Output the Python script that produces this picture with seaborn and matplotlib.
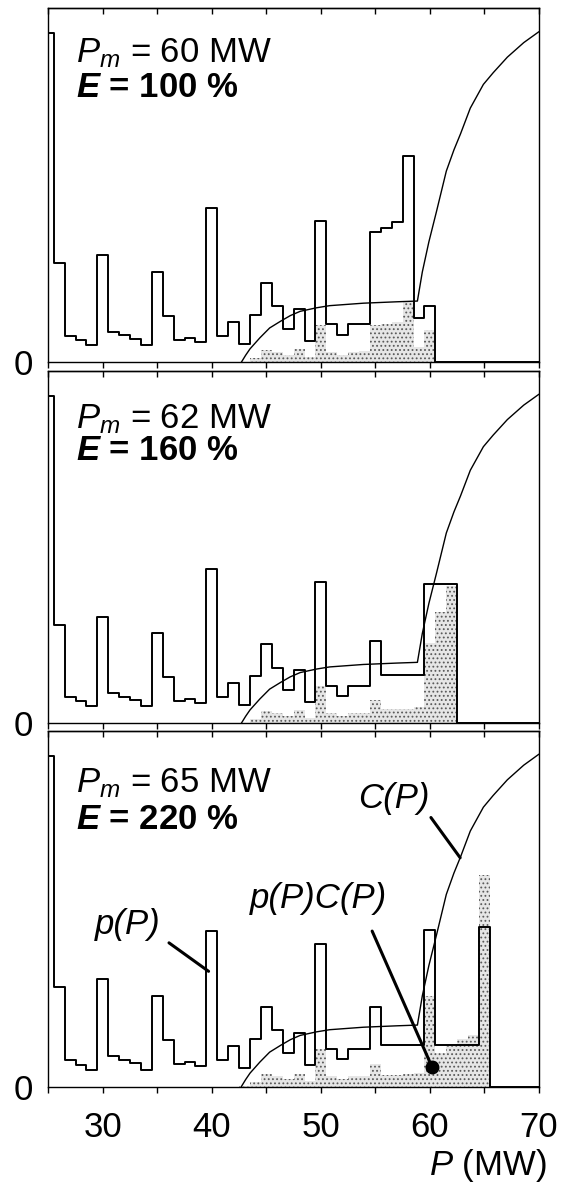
import numpy as np
import pandas as pd
import matplotlib
matplotlib.use("Agg")
import matplotlib.pyplot as plt
import seaborn as sns

# ---- data -------------------------------------------------------------
# probability histogram p(P), one bin per MW (bin centres 25 .. Pm)
BIN_COMMON = list(range(25, 55))
P_COMMON = [0.93, 0.28, 0.075, 0.062, 0.048, 0.303, 0.085, 0.076, 0.066, 0.048,
            0.256, 0.13, 0.063, 0.07, 0.057, 0.437, 0.075, 0.115, 0.052, 0.135,
            0.224, 0.158, 0.095, 0.15, 0.06, 0.40, 0.107, 0.078, 0.107, 0.107]
# upper part of the histogram for each maximum power
P_TAIL_60 = [0.369, 0.379, 0.396, 0.582, 0.124, 0.160]
P_TAIL_62 = [0.233, 0.137, 0.137, 0.137, 0.137, 0.394, 0.394, 0.394]
P_TAIL_65 = [0.225, 0.117, 0.117, 0.117, 0.117, 0.441, 0.117, 0.117, 0.117, 0.117, 0.448]
PM_VALUES = [60, 62, 65]
E_VALUES = [100, 160, 220]

# cost curve C(P)
C_CURVE_P = [42.7, 43.1, 43.5, 44.4, 45.3, 46.3, 47.2, 48.1, 49.6, 50.8, 53.9, 57.0,
             58.85, 59.3, 59.9, 60.6, 61.5, 62.2, 62.8, 63.7, 64.9, 65.8, 67.1,
             68.6, 70.0]
C_CURVE_V = [0.0, 0.02, 0.038, 0.069, 0.097, 0.116, 0.132, 0.144, 0.154, 0.160, 0.167,
             0.171, 0.173, 0.255, 0.34, 0.426, 0.54, 0.60, 0.645, 0.718, 0.785, 0.818,
             0.862, 0.903, 0.934]
# C(P) at the bin centres 43 .. 65 (zero below 43 MW)
C_BIN_P = list(range(43, 66))
C_BIN_V = [0.012, 0.054, 0.094, 0.111, 0.129, 0.143, 0.150, 0.157, 0.161, 0.164,
           0.166, 0.168, 0.169, 0.170, 0.171, 0.172, 0.20, 0.34, 0.47, 0.58,
           0.67, 0.73, 0.78]
PRODUCT_SCALE = 1.7  # display scale of p(P)C(P)

X_TICKS = [25, 30, 35, 40, 45, 50, 55, 60, 65, 70]
X_TICK_LABELS = ["", "30", "", "40", "", "50", "", "60", "", "70"]

# ---- style ------------------------------------------------------------
sns.set_style("ticks")
plt.rcParams["font.family"] = ["Liberation Sans", "DejaVu Sans"]
plt.rcParams["text.color"] = "black"
plt.rcParams["xtick.color"] = "black"
plt.rcParams["ytick.color"] = "black"
plt.rcParams["xtick.labelcolor"] = "black"
plt.rcParams["ytick.labelcolor"] = "black"
plt.rcParams["mathtext.fontset"] = "custom"
plt.rcParams["mathtext.rm"] = "Liberation Sans"
plt.rcParams["mathtext.it"] = "Liberation Sans:italic"
plt.rcParams["mathtext.bf"] = "Liberation Sans:bold"
plt.rcParams["mathtext.bfit"] = "Liberation Sans:italic:bold"
plt.rcParams["hatch.linewidth"] = 0.8

FS = 25
fig = plt.figure(figsize=(5.7, 11.84), dpi=100)

tails = [P_TAIL_60, P_TAIL_62, P_TAIL_65]
panel_boxes = [(0.0847, 0.694, 0.8609, 0.299),
               (0.0847, 0.3891, 0.8609, 0.2976),
               (0.0847, 0.0822, 0.8609, 0.3007)]
text_y = [(0.848, 0.75), (0.838, 0.747), (0.826, 0.723)]
edges = [24.5 + k for k in range(47)]
c_lookup = dict(zip(C_BIN_P, C_BIN_V))

curve = pd.DataFrame({"P": C_CURVE_P, "C": C_CURVE_V})

axes = []
for i, (pm, e, tail) in enumerate(zip(PM_VALUES, E_VALUES, tails)):
    ax = fig.add_axes(panel_boxes[i])
    axes.append(ax)
    centres = BIN_COMMON + list(range(55, pm + 1))
    p = P_COMMON + tail
    df = pd.DataFrame({"P": centres, "p": p})
    df["C"] = [c_lookup.get(c, 0.0) for c in centres]
    df["pC"] = df["p"] * df["C"] * PRODUCT_SCALE

    # shaded product p(P)C(P), stippled
    sns.histplot(data=df, x="P", weights="pC", bins=edges, element="bars",
                 fill=True, color="#e6e6e6", alpha=1.0, linewidth=0, ax=ax,
                 zorder=1)
    for patch in ax.patches:
        patch.set_hatch("....")
        patch.set_edgecolor("#5a5a5a")
        patch.set_linewidth(0)

    # probability histogram p(P)
    sns.histplot(data=df, x="P", weights="p", bins=edges, element="step",
                 fill=False, color="black", linewidth=1.4, ax=ax, zorder=3)

    # cost curve C(P)
    sns.lineplot(data=curve, x="P", y="C", color="black", linewidth=1.0,
                 ax=ax, zorder=4)

    ax.set_xlim(25, 70)
    ax.set_ylim(0, 1.0)
    ax.set_xlabel("")
    ax.set_ylabel("")
    for s in ax.spines.values():
        s.set_visible(True)
        s.set_linewidth(1.0)
        s.set_color("black")

    ax.set_yticks([0])
    ax.set_yticklabels(["0"], fontsize=FS)
    ax.tick_params(axis="y", length=0, pad=11)

    ax.set_xticks(X_TICKS)
    if i == 2:
        ax.set_xticklabels(X_TICK_LABELS, fontsize=FS)
    else:
        ax.set_xticklabels([])
    ax.tick_params(axis="x", direction="out", length=4.3, width=1.0, pad=13)
    top = ax.secondary_xaxis("top")
    top.set_xticks(X_TICKS)
    top.set_xticklabels([])
    top.tick_params(axis="x", direction="in", length=4.3, width=1.0)
    top.spines["top"].set_linewidth(1.0)

    ax.text(0.056, text_y[i][0], rf"$P_m$ = {pm} MW", transform=ax.transAxes,
            fontsize=FS, ha="left", va="baseline")
    ax.text(0.056, text_y[i][1], rf"$\mathbfit{{E}}$ = {e} %", transform=ax.transAxes,
            fontsize=FS, fontweight="bold", ha="left", va="baseline")

# labels with leader lines in the bottom panel
ax = axes[2]
ax.text(53.45, 0.784, "C(P)", fontsize=FS, style="italic", ha="left", va="baseline")
ax.plot([60.09, 62.77], [0.756, 0.643], color="black", lw=2.2, zorder=5)
ax.text(29.27, 0.43, "p(P)", fontsize=FS, style="italic", ha="left", va="baseline")
ax.plot([36.07, 39.70], [0.404, 0.324], color="black", lw=2.2, zorder=5)
ax.text(43.5, 0.502, "p(P)C(P)", fontsize=FS, style="italic", ha="left", va="baseline")
ax.plot([54.7, 60.18], [0.437, 0.056], color="black", lw=2.2, zorder=5)
ax.plot([60.18], [0.056], marker="o", ms=9, color="black", zorder=6)

fig.text(547 / 570, 1 - 1175 / 1184, r"$P$ (MW)", fontsize=FS, ha="right",
         va="baseline")

fig.savefig("out.png", dpi=100)
